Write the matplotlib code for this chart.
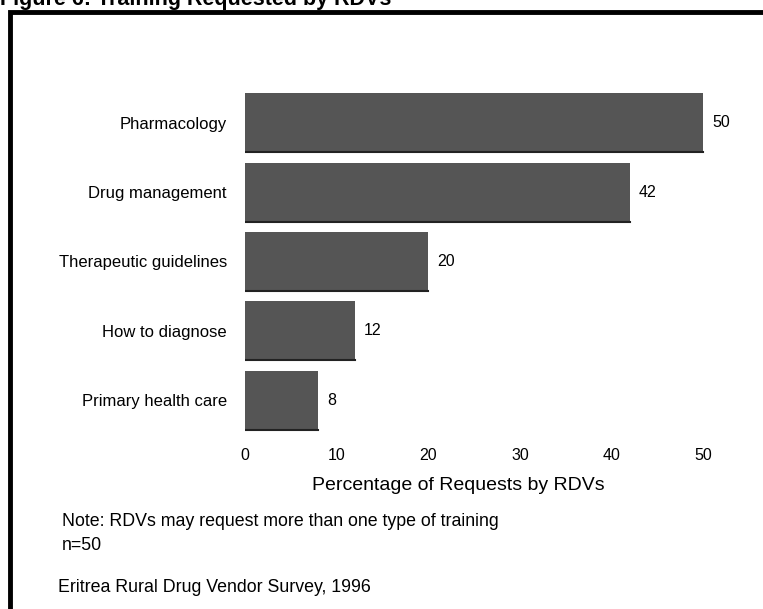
import matplotlib.pyplot as plt
from matplotlib.patches import Rectangle

plt.rcParams['font.family'] = ['Liberation Sans', 'DejaVu Sans']

# training types, top to bottom
topics = ['Pharmacology', 'Drug management', 'Therapeutic guidelines',
          'How to diagnose', 'Primary health care']
percent = [50, 42, 20, 12, 8]
xticks = [0, 10, 20, 30, 40, 50]

fig = plt.figure(figsize=(7.63, 6.09), dpi=100)

# frame round the figure (right and bottom run off the page)
fig.patches.append(Rectangle((9.5 / 763, -0.05), 1.1, 1 - 11.5 / 609 + 0.05,
                             transform=fig.transFigure, fill=False,
                             edgecolor='black', linewidth=3.5, zorder=0))

fig.text(0.0, 1 - 0 / 609, 'Figure 6: Training Requested by RDVs',
         fontsize=15.5, fontweight='bold', ha='left', va='center')

ax = fig.add_axes([245 / 763, 1 - 435 / 609, 504 / 763, 347 / 609])
ypos = list(range(len(topics)))
bars = ax.barh(ypos, percent, height=0.85, color='#555555',
               edgecolor='none', zorder=2)
# dark lower edge on each bar
for b in bars:
    ax.plot([b.get_x(), b.get_x() + b.get_width()],
            [b.get_y() + b.get_height()] * 2, color='#222222', lw=1.5, zorder=3)

for y, v in zip(ypos, percent):
    ax.text(v + 1.0, y, str(v), va='center', ha='left', fontsize=11.5)

ax.set_xlim(0, 55)
ax.set_ylim(len(topics) - 0.5, -0.5)
ax.set_yticks(ypos)
ax.set_yticklabels(topics, fontsize=12)
ax.set_xticks(xticks)
ax.set_xticklabels([str(t) for t in xticks], fontsize=11.5)
ax.tick_params(axis='x', length=0, pad=9)
ax.tick_params(axis='y', length=0, pad=13)
for s in ax.spines.values():
    s.set_visible(False)
ax.set_xlabel('Percentage of Requests by RDVs', fontsize=14)
ax.xaxis.set_label_coords(0.423, -0.12)

fig.text(62 / 763, 1 - 522 / 609,
         'Note: RDVs may request more than one type of training',
         fontsize=12.8, va='center', ha='left')
fig.text(62 / 763, 1 - 545 / 609, 'n=50', fontsize=12.8, va='center', ha='left')
fig.text(58 / 763, 1 - 587 / 609, 'Eritrea Rural Drug Vendor Survey, 1996',
         fontsize=12.8, va='center', ha='left')

fig.savefig('out.png', dpi=100)
